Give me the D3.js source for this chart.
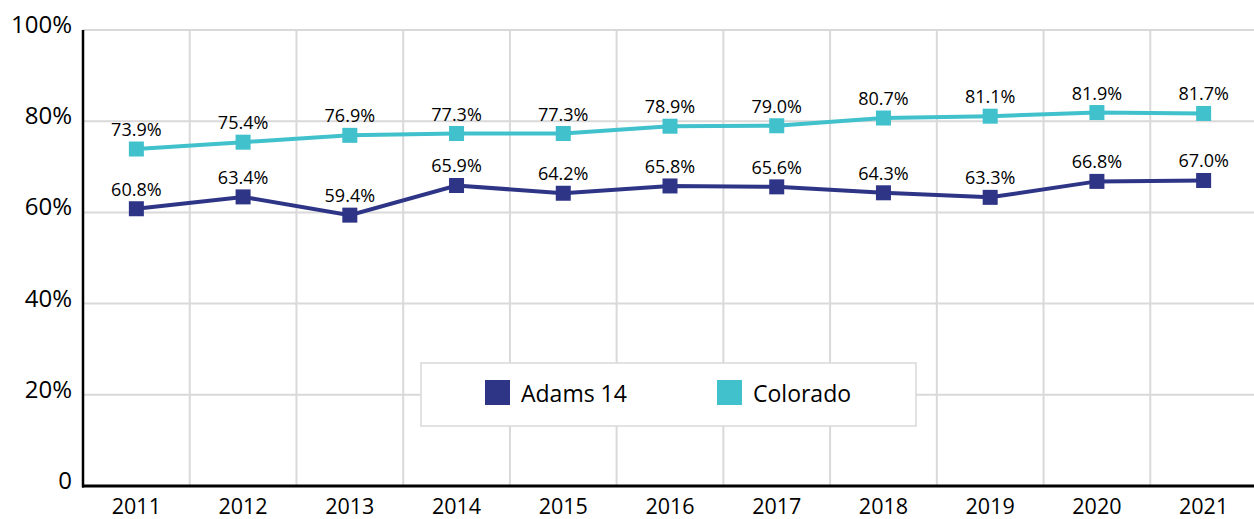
<!DOCTYPE html>
<html>
<head>
<meta charset="utf-8">
<script src="https://cdn.jsdelivr.net/npm/d3@7"></script>
<style>
  body { margin: 0; background: #fff; }
  text { font-family: "Open Sans", "Noto Sans", sans-serif; fill: #000; }
</style>
</head>
<body>
<div id="chart"></div>
<script>
const years = ["2011", "2012", "2013", "2014", "2015", "2016", "2017", "2018", "2019", "2020", "2021"];
const adams14 = [60.8, 63.4, 59.4, 65.9, 64.2, 65.8, 65.6, 64.3, 63.3, 66.8, 67.0];
const colorado = [73.9, 75.4, 76.9, 77.3, 77.3, 78.9, 79.0, 80.7, 81.1, 81.9, 81.7];
const yTicks = [0, 20, 40, 60, 80, 100];

(function() {
  const series = [
    { name: "Adams 14", values: adams14, color: "#2e3586" },
    { name: "Colorado", values: colorado, color: "#40c1cc" }
  ];

  const W = 1254, H = 519;
  const plot = { left: 83, right: 1257, top: 30, bottom: 486 };

  const svg = d3.select("#chart").append("svg")
    .attr("width", W)
    .attr("height", H);

  const x = d3.scaleBand().domain(years).range([plot.left, plot.right]);
  const y = d3.scaleLinear().domain([0, 100]).range([plot.bottom, plot.top]);
  const cx = i => x(years[i]) + x.bandwidth() / 2;

  // gridlines
  svg.selectAll(".hgrid")
    .data(yTicks.filter(d => d > 0))
    .enter().append("line")
    .attr("x1", plot.left).attr("x2", W)
    .attr("y1", d => y(d)).attr("y2", d => y(d))
    .attr("stroke", "#d9d9d9").attr("stroke-width", 2);

  svg.selectAll(".vgrid")
    .data(years.slice(1))
    .enter().append("line")
    .attr("x1", d => x(d)).attr("x2", d => x(d))
    .attr("y1", plot.top).attr("y2", plot.bottom)
    .attr("stroke", "#d9d9d9").attr("stroke-width", 2);

  // axes lines
  svg.append("line")
    .attr("x1", plot.left).attr("x2", plot.left)
    .attr("y1", plot.top).attr("y2", plot.bottom + 1.5)
    .attr("stroke", "#000").attr("stroke-width", 2.5);
  svg.append("line")
    .attr("x1", plot.left - 1).attr("x2", W)
    .attr("y1", plot.bottom).attr("y2", plot.bottom)
    .attr("stroke", "#000").attr("stroke-width", 3);

  // y tick labels
  svg.selectAll(".ylab")
    .data(yTicks)
    .enter().append("text")
    .attr("x", 72)
    .attr("y", d => y(d) + 3)
    .attr("text-anchor", "end")
    .style("font-size", "24px")
    .text(d => d === 0 ? "0" : d + "%");

  // x tick labels
  svg.selectAll(".xlab")
    .data(years)
    .enter().append("text")
    .attr("x", (d, i) => cx(i))
    .attr("y", 514)
    .attr("text-anchor", "middle")
    .style("font-size", "21.5px")
    .text(d => d);

  // lines, markers, labels
  const line = d3.line()
    .x((d, i) => cx(i))
    .y(d => y(d));

  series.forEach(function(s) {
    svg.append("path")
      .datum(s.values)
      .attr("d", line)
      .attr("fill", "none")
      .attr("stroke", s.color)
      .attr("stroke-width", 4);

    svg.selectAll(null)
      .data(s.values)
      .enter().append("rect")
      .attr("x", (d, i) => cx(i) - 7.5)
      .attr("y", d => y(d) - 7.5)
      .attr("width", 15).attr("height", 15)
      .attr("fill", s.color);

    svg.selectAll(null)
      .data(s.values)
      .enter().append("text")
      .attr("x", (d, i) => cx(i))
      .attr("y", d => y(d) - 13)
      .attr("text-anchor", "middle")
      .style("font-size", "18px")
      .text(d => d.toFixed(1) + "%");
  });

  // legend
  const legend = svg.append("g");
  legend.append("rect")
    .attr("x", 421).attr("y", 363)
    .attr("width", 495).attr("height", 63)
    .attr("fill", "#fff")
    .attr("stroke", "#d9d9d9").attr("stroke-width", 1.5);

  const legendX = [485, 717];
  series.forEach(function(s, i) {
    legend.append("rect")
      .attr("x", legendX[i]).attr("y", 380)
      .attr("width", 25).attr("height", 25)
      .attr("fill", s.color);
    legend.append("text")
      .attr("x", legendX[i] + 36).attr("y", 402)
      .style("font-size", "23px")
      .text(s.name);
  });
})();
</script>
</body>
</html>
